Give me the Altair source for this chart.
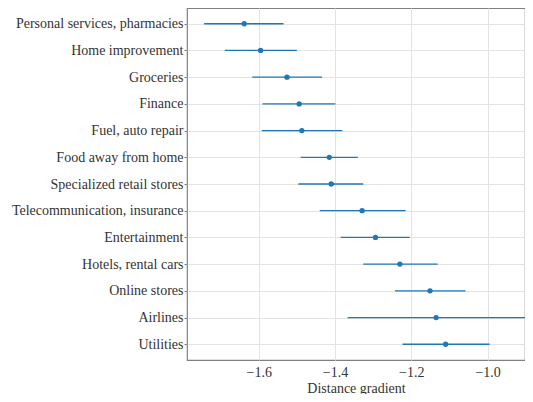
import altair as alt
import pandas as pd

categories = [
    "Personal services, pharmacies", "Home improvement", "Groceries", "Finance",
    "Fuel, auto repair", "Food away from home", "Specialized retail stores",
    "Telecommunication, insurance", "Entertainment", "Hotels, rental cars",
    "Online stores", "Airlines", "Utilities",
]
estimate = [-1.638, -1.595, -1.526, -1.494, -1.487, -1.415, -1.410,
            -1.329, -1.294, -1.230, -1.151, -1.135, -1.110]
ci_low = [-1.743, -1.689, -1.617, -1.590, -1.592, -1.490, -1.496,
          -1.440, -1.385, -1.326, -1.243, -1.367, -1.223]
ci_high = [-1.535, -1.500, -1.434, -1.399, -1.381, -1.340, -1.326,
           -1.215, -1.204, -1.131, -1.058, -0.902, -0.995]

df = pd.DataFrame({"cat": categories, "est": estimate, "lo": ci_low, "hi": ci_high})

FONT = "Liberation Serif"
xscale = alt.Scale(domain=[-1.788, -0.902], nice=False, zero=False)
yscale = alt.Scale(type="point", padding=0.59, domain=categories)

xenc = alt.X("est:Q", scale=xscale, title="Distance gradient",
             axis=alt.Axis(values=[-1.6, -1.4, -1.2, -1.0], format=".1f", ticks=False,
                           labelPadding=5,
                           labelExpr="replace(datum.label, '-', '−')"))
yenc = alt.Y("cat:N", scale=yscale, sort=categories, title=None,
             axis=alt.Axis(grid=True, ticks=True, tickSize=3, labelPadding=1))

bars = alt.Chart(df).mark_rule(color="#1f77b4", strokeWidth=1.3).encode(
    x=alt.X("lo:Q", scale=xscale), x2="hi:Q", y=yenc)
pts = alt.Chart(df).mark_circle(color="#1f77b4", size=28, opacity=1).encode(x=xenc, y=yenc)

chart = (bars + pts).properties(
    width=338, height=352,
    autosize=alt.AutoSizeParams(type="none"),
    padding={"left": 179, "top": 0, "right": 0, "bottom": 34},
).configure_view(stroke="#808080", strokeWidth=1.2).configure_axis(
    labelFont=FONT, titleFont=FONT, labelFontSize=14, titleFontSize=14,
    labelColor="#333333", titleColor="#333333", titleFontWeight="normal",
    gridColor="#e3e3e3", gridWidth=1, domain=False,
    tickColor="#808080",
).configure_axisX(titlePadding=2)

chart.save("out.html", embed_options={"renderer": "svg", "actions": False})
